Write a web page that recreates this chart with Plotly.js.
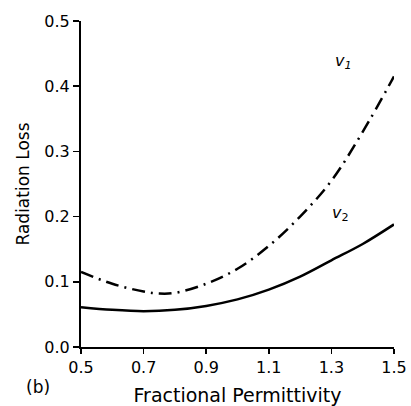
<!DOCTYPE html>
<html>
<head>
<meta charset="utf-8">
<script src="https://cdn.plot.ly/plotly-3.0.1.min.js"></script>
<style>html,body{margin:0;padding:0;background:#fff;}#chart{width:411px;height:406px;}</style>
</head>
<body>
<div id="chart"></div>
<script>
const permittivity = [0.5, 0.6, 0.7, 0.75, 0.8, 0.9, 1.0, 1.1, 1.2, 1.3, 1.4, 1.5];
const lossV1 = [0.115, 0.097, 0.085, 0.082, 0.083, 0.097, 0.12, 0.155, 0.20, 0.255, 0.33, 0.415];
const permittivityV2 = [0.5, 0.6, 0.7, 0.8, 0.9, 1.0, 1.1, 1.2, 1.3, 1.4, 1.5];
const lossV2 = [0.061, 0.057, 0.055, 0.057, 0.063, 0.073, 0.088, 0.108, 0.133, 0.158, 0.188];
const xTicks = [0.5, 0.7, 0.9, 1.1, 1.3, 1.5];
const yTicks = [0.0, 0.1, 0.2, 0.3, 0.4, 0.5];

const font = "DejaVu Sans, sans-serif";
const traces = [
  {x: permittivity, y: lossV1, mode: 'lines', line: {color: '#000', width: 2.5, dash: '13px,6px,2px,6px', shape: 'spline'}, name: 'v1', hoverinfo: 'skip'},
  {x: permittivityV2, y: lossV2, mode: 'lines', line: {color: '#000', width: 2.5, shape: 'spline'}, name: 'v2', hoverinfo: 'skip'}
];
const plotW = 411 - 81 - 17, plotH = 406 - 21 - 59;
const layout = {
  width: 411, height: 406,
  margin: {l: 81, r: 17, t: 21, b: 59},
  paper_bgcolor: '#fff', plot_bgcolor: '#fff',
  showlegend: false,
  font: {family: font, color: '#000', size: 16},
  xaxis: {
    range: [0.5, 1.5], tickvals: xTicks, ticktext: xTicks.map(v => v.toFixed(1)),
    showgrid: false, zeroline: false, showline: true, linecolor: '#000', linewidth: 2,
    ticks: 'outside', ticklen: 5, tickwidth: 1.5, tickcolor: '#000',
    tickfont: {family: font, size: 16, color: '#000'},
    title: {text: 'Fractional Permittivity', font: {family: font, size: 19, color: '#000'}, standoff: 12}
  },
  yaxis: {
    range: [0, 0.5], tickvals: yTicks, ticktext: yTicks.map(v => v.toFixed(1)),
    showgrid: false, zeroline: false, showline: true, linecolor: '#000', linewidth: 2,
    ticks: 'outside', ticklen: 6, tickwidth: 1.5, tickcolor: '#000',
    tickfont: {family: font, size: 16, color: '#000'},
    title: {text: 'Radiation Loss', font: {family: font, size: 17, color: '#000'}, standoff: 10}
  },
  annotations: [
    {x: 1.34, y: 0.438, xref: 'x', yref: 'y', text: '<i>v</i><sub><i>1</i></sub>', showarrow: false, font: {family: font, size: 16}},
    {x: 1.33, y: 0.205, xref: 'x', yref: 'y', text: '<i>v</i><sub>2</sub>', showarrow: false, font: {family: font, size: 16}},
    {x: (24 - 81) / plotW, y: (347 - 399) / plotH, xref: 'paper', yref: 'paper', text: '(b)', showarrow: false, font: {family: font, size: 17}}
  ]
};
Plotly.newPlot('chart', traces, layout, {displayModeBar: false, staticPlot: true});
</script>
</body>
</html>
